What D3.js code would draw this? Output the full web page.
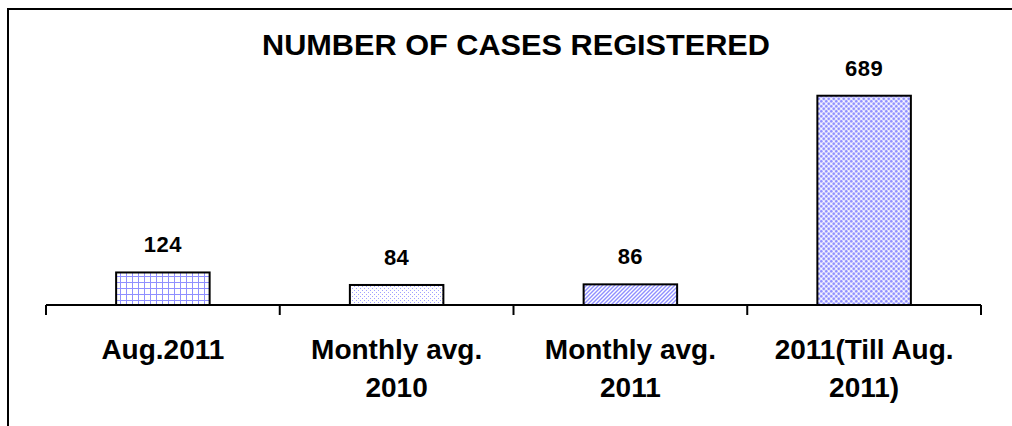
<!DOCTYPE html>
<html>
<head>
<meta charset="utf-8">
<script src="https://cdn.jsdelivr.net/npm/d3@7"></script>
<style>
  body { margin: 0; background: #fff; }
  text { font-family: "Liberation Sans", Arial, sans-serif; font-weight: bold; fill: #000; }
</style>
</head>
<body>
<div id="chart"></div>
<script>
// data
var categories = [["Aug.2011"], ["Monthly avg.", "2010"], ["Monthly avg.", "2011"], ["2011(Till Aug.", "2011)"]];
var values = [124, 84, 86, 689];
var patterns = ["grid", "dots", "diag", "check"];
var title = "NUMBER OF CASES REGISTERED";

var W = 1012, H = 426;
var svg = d3.select("#chart").append("svg")
    .attr("width", W)
    .attr("height", H);

var defs = svg.append("defs");
var blue = "#8f8fff";

// small grid
var p = defs.append("pattern").attr("id", "grid").attr("patternUnits", "userSpaceOnUse")
    .attr("width", 6).attr("height", 6);
p.append("rect").attr("width", 6).attr("height", 6).attr("fill", "#fff");
p.append("path").attr("d", "M0.5,0V6M0,0.5H6").attr("stroke", blue).attr("stroke-width", 1);

// fine dots
p = defs.append("pattern").attr("id", "dots").attr("patternUnits", "userSpaceOnUse")
    .attr("width", 4).attr("height", 4);
p.append("rect").attr("width", 4).attr("height", 4).attr("fill", "#fff");
p.append("rect").attr("x", 0).attr("y", 0).attr("width", 1).attr("height", 1).attr("fill", "#a0a0ff");
p.append("rect").attr("x", 2).attr("y", 2).attr("width", 1).attr("height", 1).attr("fill", "#a0a0ff");

// diagonal stripes
p = defs.append("pattern").attr("id", "diag").attr("patternUnits", "userSpaceOnUse")
    .attr("width", 4).attr("height", 4);
p.append("rect").attr("width", 4).attr("height", 4).attr("fill", "#fff");
p.append("path").attr("d", "M-1,1L1,-1M0,4L4,0M3,5L5,3").attr("stroke", blue).attr("stroke-width", 1.4);

// dense checker dots
p = defs.append("pattern").attr("id", "check").attr("patternUnits", "userSpaceOnUse")
    .attr("width", 5).attr("height", 5);
p.append("rect").attr("width", 5).attr("height", 5).attr("fill", "#dcdcff");
p.append("circle").attr("cx", 1.25).attr("cy", 1.25).attr("r", 1.2).attr("fill", "#9090ff");
p.append("circle").attr("cx", 3.75).attr("cy", 3.75).attr("r", 1.2).attr("fill", "#9090ff");
p.append("circle").attr("cx", 3.75).attr("cy", 1.25).attr("r", 0.8).attr("fill", "#fff");
p.append("circle").attr("cx", 1.25).attr("cy", 3.75).attr("r", 0.8).attr("fill", "#fff");

// frame (left + top only)
svg.append("path")
    .attr("d", "M8,426V9H1012")
    .attr("fill", "none")
    .attr("stroke", "#000")
    .attr("stroke-width", 2);

// title
svg.append("text")
    .attr("x", 516)
    .attr("y", 55)
    .attr("text-anchor", "middle")
    .style("font-size", "30px")
    .attr("textLength", 508)
    .attr("lengthAdjust", "spacingAndGlyphs")
    .text(title);

// scales
var x = d3.scaleBand()
    .domain(d3.range(values.length))
    .range([46, 981])
    .paddingInner(0.6)
    .paddingOuter(0.3);

var y = d3.scaleLinear()
    .domain([20, 800])
    .range([305, 61]);

var xi = d3.scaleLinear().domain([0, values.length]).range([46, 981]);

// bars
svg.append("g")
    .selectAll("rect")
    .data(values)
    .join("rect")
    .attr("x", (d, i) => x(i))
    .attr("y", d => y(d))
    .attr("width", x.bandwidth())
    .attr("height", d => y(20) - y(d))
    .attr("fill", (d, i) => "url(#" + patterns[i] + ")")
    .attr("stroke", "#000")
    .attr("stroke-width", 2);

// value labels
svg.append("g")
    .selectAll("text")
    .data(values)
    .join("text")
    .attr("x", (d, i) => x(i) + x.bandwidth() / 2)
    .attr("y", d => y(d) - 20)
    .attr("text-anchor", "middle")
    .style("font-size", "22px")
    .style("letter-spacing", "0.5px")
    .text(d => d);

// axis line + ticks between categories
var axis = svg.append("g");
axis.append("line")
    .attr("x1", xi(0)).attr("x2", xi(values.length))
    .attr("y1", y(20)).attr("y2", y(20))
    .attr("stroke", "#000").attr("stroke-width", 2);
axis.selectAll(".tick")
    .data(d3.range(values.length + 1))
    .join("line")
    .attr("class", "tick")
    .attr("x1", d => xi(d)).attr("x2", d => xi(d))
    .attr("y1", y(20)).attr("y2", y(20) + 10)
    .attr("stroke", "#000").attr("stroke-width", 2);

// category labels
var cat = svg.append("g")
    .selectAll("text")
    .data(categories)
    .join("text")
    .attr("x", (d, i) => x(i) + x.bandwidth() / 2)
    .attr("y", 359)
    .attr("text-anchor", "middle")
    .style("font-size", "28px");

cat.selectAll("tspan")
    .data(d => d)
    .join("tspan")
    .attr("x", function () { return d3.select(this.parentNode).attr("x"); })
    .attr("dy", (d, j) => j === 0 ? 0 : 38)
    .text(d => d);
</script>
</body>
</html>
